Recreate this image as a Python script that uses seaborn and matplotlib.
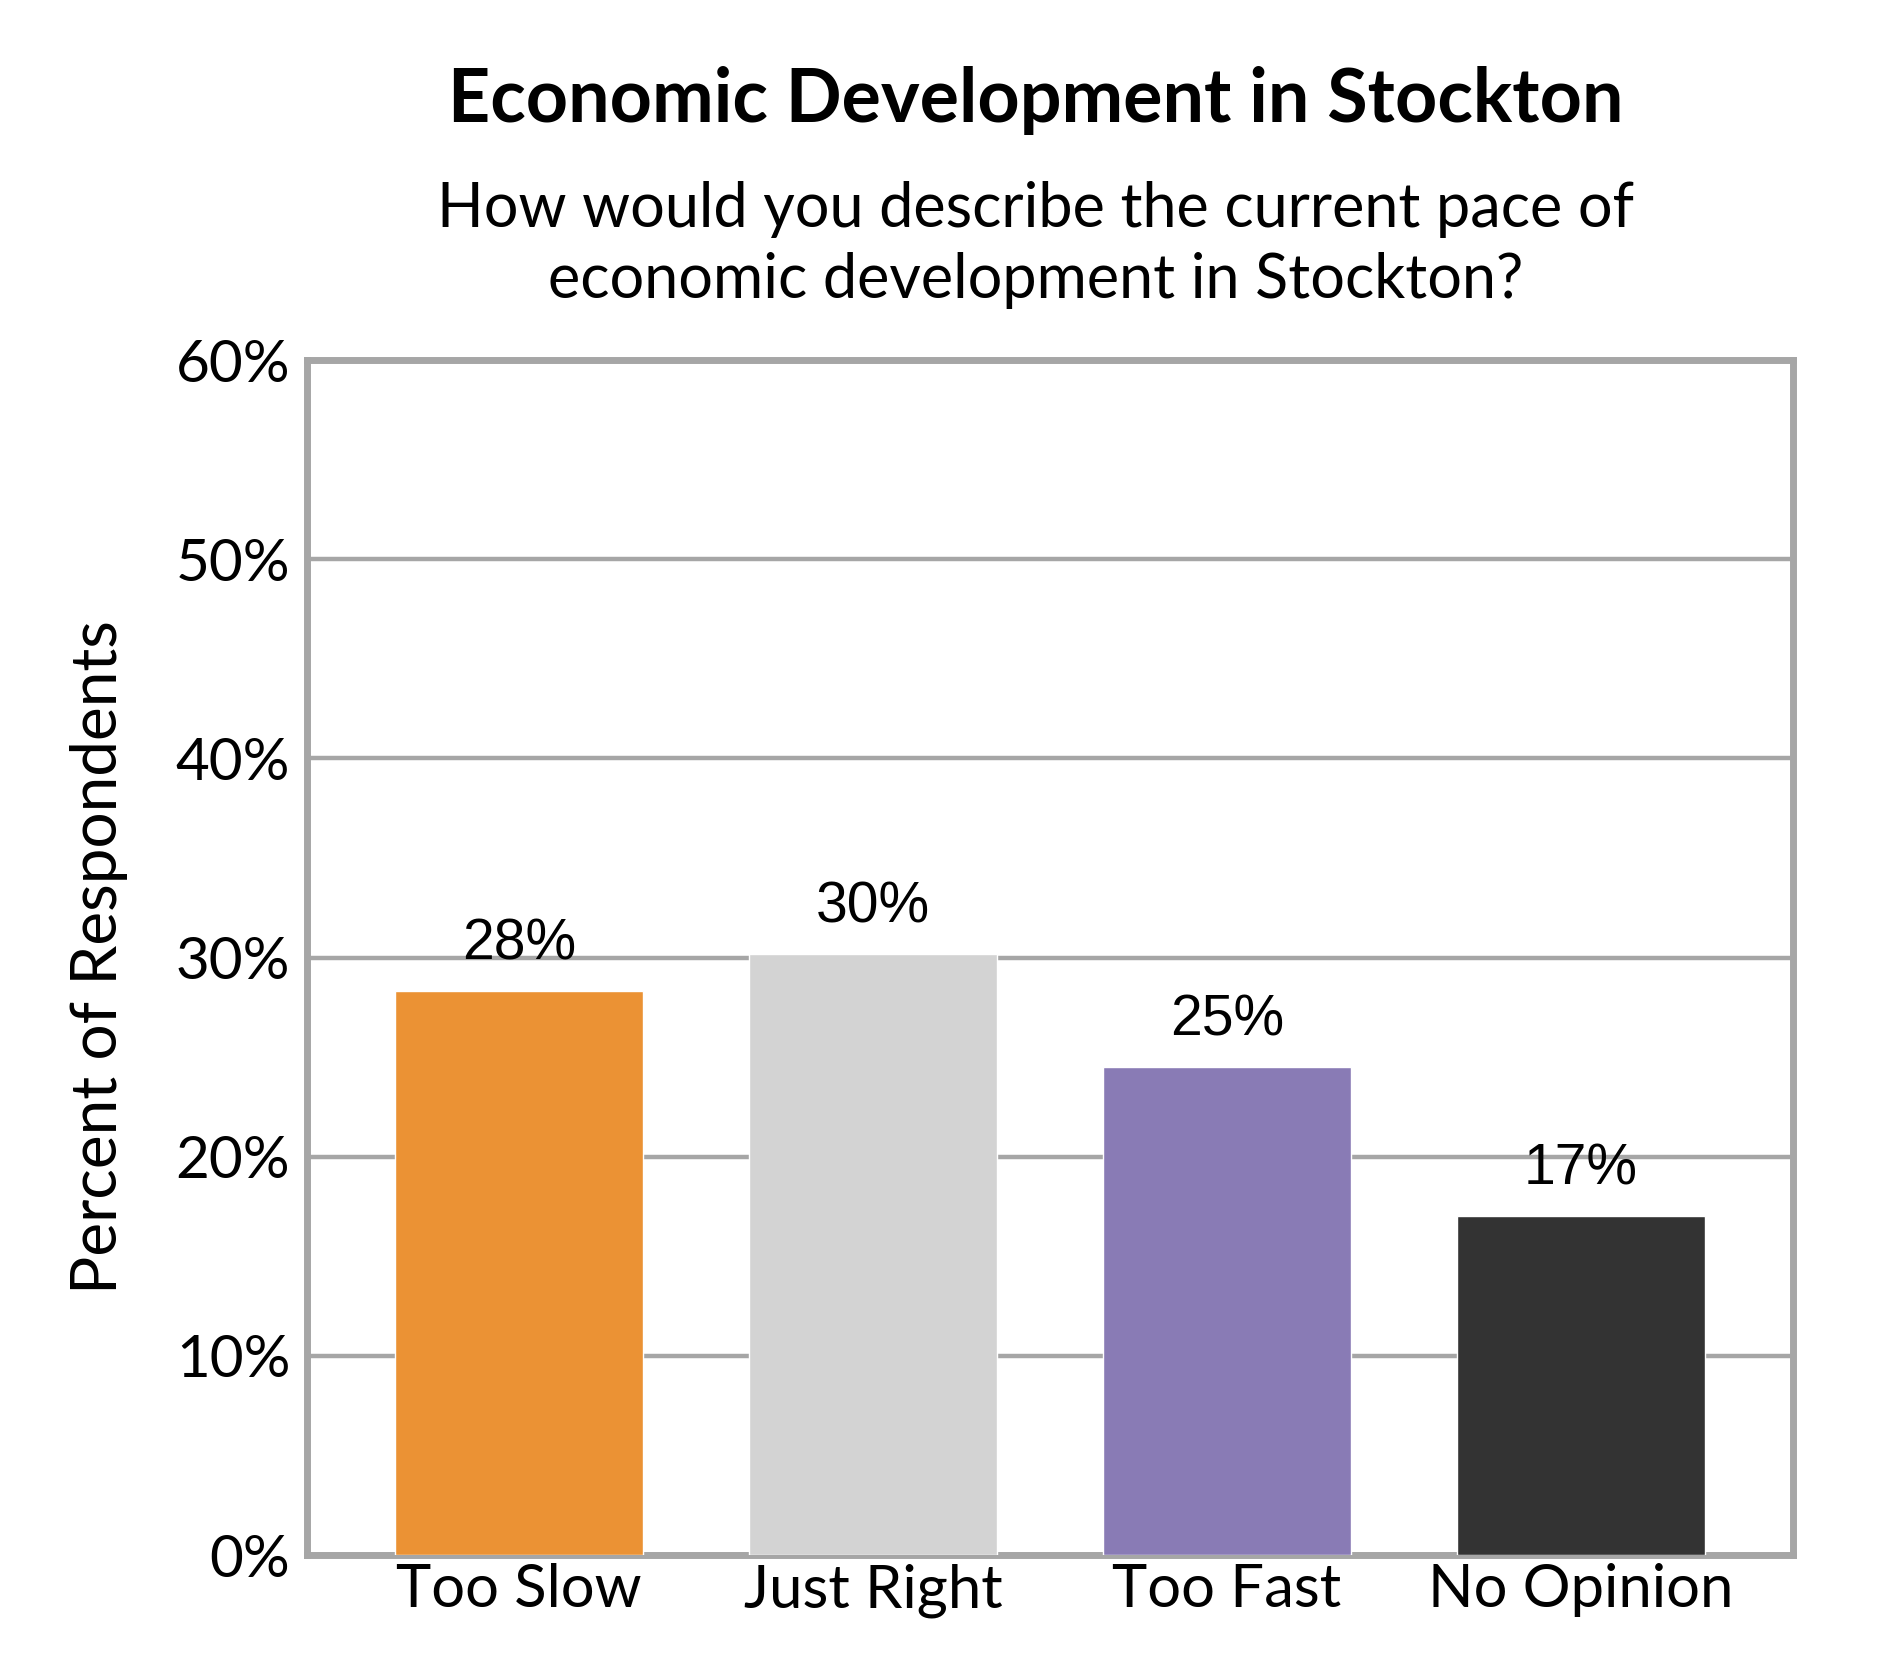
import pandas as pd
import matplotlib.pyplot as plt
import seaborn as sns

# values
categories = ['Too Slow', 'Just Right', 'Too Fast', 'No Opinion']
percents = [28.3, 30.2, 24.5, 17.0]
bar_labels = ['28%', '30%', '25%', '17%']
colors = ['#EB9234', '#D3D3D3', '#897BB5', '#333333']
yticks = [0, 10, 20, 30, 40, 50, 60]

df = pd.DataFrame({'category': categories, 'percent': percents})

sns.set_style('white')
plt.rcParams['font.family'] = ['Lato', 'DejaVu Sans']
plt.rcParams['text.color'] = 'black'
plt.rcParams['xtick.color'] = 'black'
plt.rcParams['ytick.color'] = 'black'
plt.rcParams['axes.labelcolor'] = 'black'

fig = plt.figure(figsize=(18.9, 16.8), dpi=100)
ax = fig.add_axes([0.1624, 0.0744, 0.7863, 0.7113])

sns.barplot(data=df, x='category', y='percent', hue='category', palette=colors,
            width=0.7, saturation=1, legend=False, ax=ax, zorder=3)

ax.set_xlim(-0.6, 3.6)
ax.set_ylim(0, 60)
ax.set_yticks(yticks)
ax.set_yticklabels([f'{t}%' for t in yticks], fontsize=42)
ax.tick_params(axis='x', labelsize=43, length=0, pad=6)
ax.tick_params(axis='y', length=0, pad=12)
ax.yaxis.grid(True, color='#A6A6A6', linewidth=3.2, zorder=0)
ax.set_axisbelow(True)
for s in ax.spines.values():
    s.set_visible(True)
    s.set_color('#A6A6A6')
    s.set_linewidth(5)

ax.set_xlabel('')
ax.set_ylabel('Percent of Respondents', fontsize=46, labelpad=34)

# bar value labels
for cont, lab in zip(ax.containers, bar_labels):
    ax.bar_label(cont, labels=[lab], padding=14, fontsize=41, family='Liberation Sans')

fig.text(0.548, 0.94, 'Economic Development in Stockton', ha='center', va='center',
         fontsize=53, fontweight='bold')
fig.text(0.548, 0.854, 'How would you describe the current pace of\neconomic development in Stockton?',
         ha='center', va='center', fontsize=44, linespacing=1.3)

plt.savefig('out.png', dpi=100)
